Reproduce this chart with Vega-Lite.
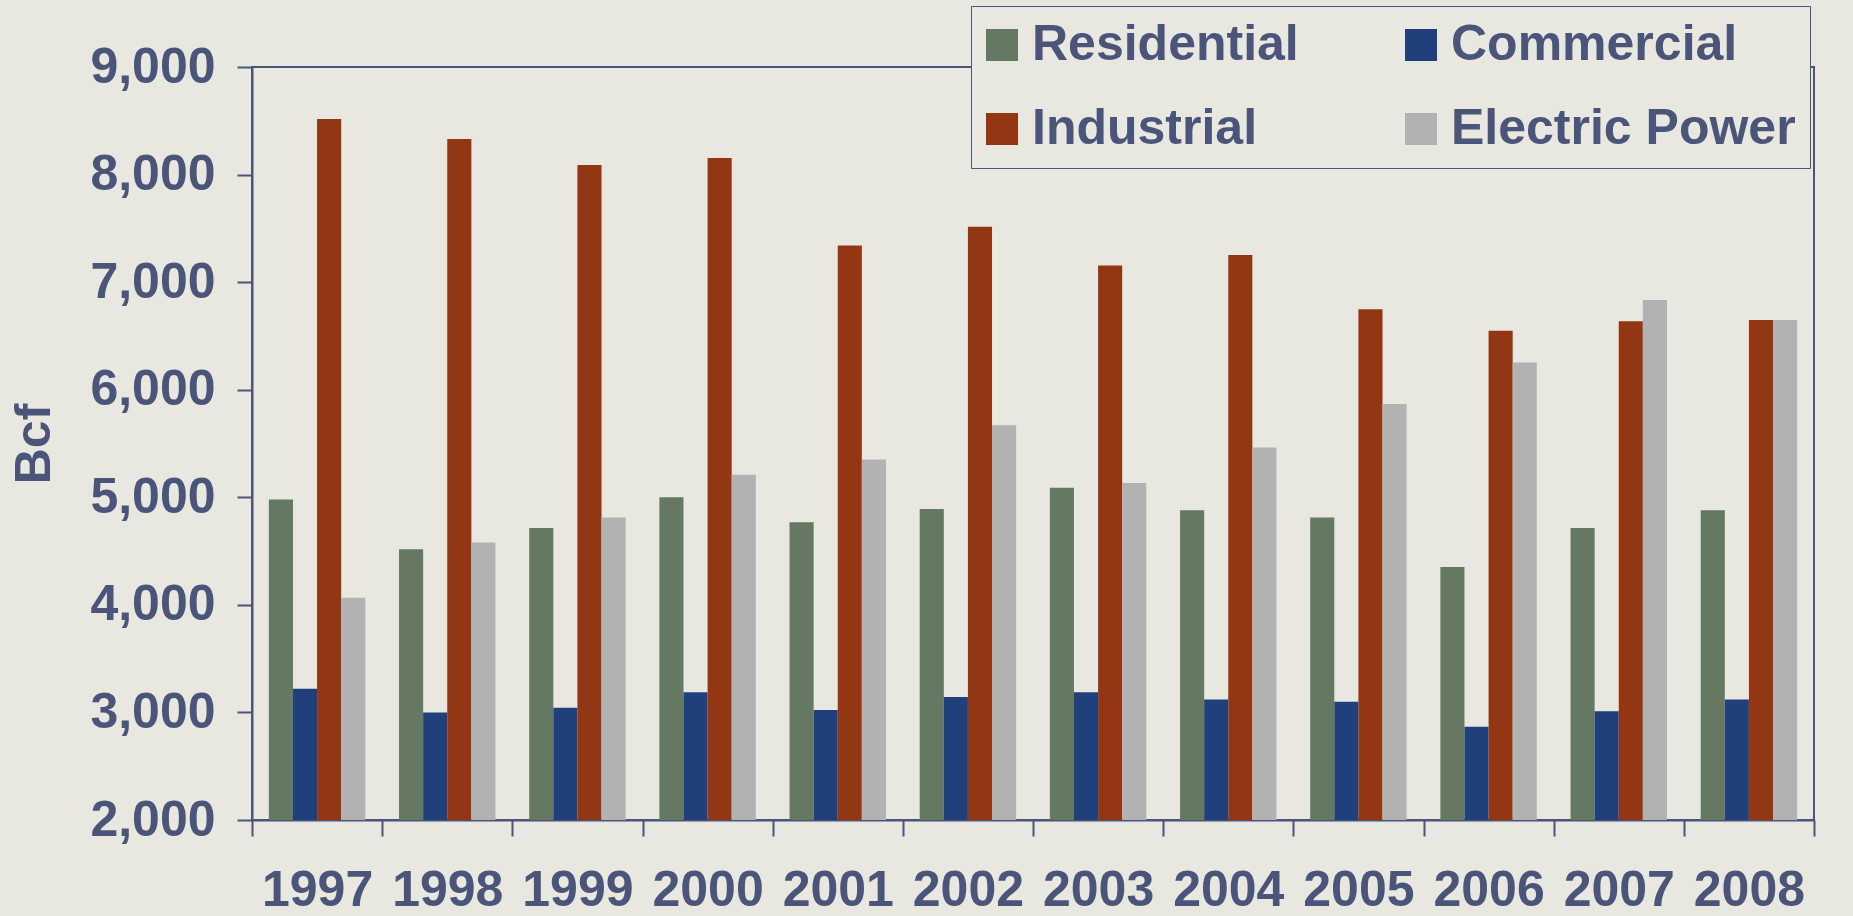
{
  "$schema": "https://vega.github.io/schema/vega-lite/v6.json",
  "width": 1562,
  "height": 753,
  "autosize": {"type": "none"},
  "padding": {"left": 252, "top": 67, "right": 39, "bottom": 96},
  "background": "#e8e8e1",
  "config": {
    "font": "Liberation Sans",
    "view": {"stroke": "#4b557a", "strokeWidth": 2}
  },
  "data": {
    "values": [
      {"year": "1997", "sector": "Residential", "bcf": 4980},
      {"year": "1997", "sector": "Commercial", "bcf": 3220},
      {"year": "1997", "sector": "Industrial", "bcf": 8516},
      {"year": "1997", "sector": "Electric Power", "bcf": 4066},
      {"year": "1998", "sector": "Residential", "bcf": 4516},
      {"year": "1998", "sector": "Commercial", "bcf": 3000},
      {"year": "1998", "sector": "Industrial", "bcf": 8330},
      {"year": "1998", "sector": "Electric Power", "bcf": 4580},
      {"year": "1999", "sector": "Residential", "bcf": 4715},
      {"year": "1999", "sector": "Commercial", "bcf": 3044},
      {"year": "1999", "sector": "Industrial", "bcf": 8088},
      {"year": "1999", "sector": "Electric Power", "bcf": 4813},
      {"year": "2000", "sector": "Residential", "bcf": 5000},
      {"year": "2000", "sector": "Commercial", "bcf": 3187},
      {"year": "2000", "sector": "Industrial", "bcf": 8154},
      {"year": "2000", "sector": "Electric Power", "bcf": 5209},
      {"year": "2001", "sector": "Residential", "bcf": 4769},
      {"year": "2001", "sector": "Commercial", "bcf": 3022},
      {"year": "2001", "sector": "Industrial", "bcf": 7341},
      {"year": "2001", "sector": "Electric Power", "bcf": 5352},
      {"year": "2002", "sector": "Residential", "bcf": 4890},
      {"year": "2002", "sector": "Commercial", "bcf": 3143},
      {"year": "2002", "sector": "Industrial", "bcf": 7516},
      {"year": "2002", "sector": "Electric Power", "bcf": 5670},
      {"year": "2003", "sector": "Residential", "bcf": 5088},
      {"year": "2003", "sector": "Commercial", "bcf": 3187},
      {"year": "2003", "sector": "Industrial", "bcf": 7154},
      {"year": "2003", "sector": "Electric Power", "bcf": 5132},
      {"year": "2004", "sector": "Residential", "bcf": 4879},
      {"year": "2004", "sector": "Commercial", "bcf": 3121},
      {"year": "2004", "sector": "Industrial", "bcf": 7253},
      {"year": "2004", "sector": "Electric Power", "bcf": 5462},
      {"year": "2005", "sector": "Residential", "bcf": 4813},
      {"year": "2005", "sector": "Commercial", "bcf": 3099},
      {"year": "2005", "sector": "Industrial", "bcf": 6747},
      {"year": "2005", "sector": "Electric Power", "bcf": 5868},
      {"year": "2006", "sector": "Residential", "bcf": 4352},
      {"year": "2006", "sector": "Commercial", "bcf": 2868},
      {"year": "2006", "sector": "Industrial", "bcf": 6549},
      {"year": "2006", "sector": "Electric Power", "bcf": 6253},
      {"year": "2007", "sector": "Residential", "bcf": 4714},
      {"year": "2007", "sector": "Commercial", "bcf": 3011},
      {"year": "2007", "sector": "Industrial", "bcf": 6637},
      {"year": "2007", "sector": "Electric Power", "bcf": 6835},
      {"year": "2008", "sector": "Residential", "bcf": 4879},
      {"year": "2008", "sector": "Commercial", "bcf": 3121},
      {"year": "2008", "sector": "Industrial", "bcf": 6648},
      {"year": "2008", "sector": "Electric Power", "bcf": 6648}
    ]
  },
  "mark": {"type": "bar", "clip": true},
  "encoding": {
    "x": {
      "field": "year",
      "type": "nominal",
      "scale": {"paddingInner": 0, "paddingOuter": 0},
      "axis": {
        "title": null,
        "labelAngle": 0,
        "tickBand": "extent",
        "tickSize": 16,
        "tickWidth": 2,
        "tickColor": "#4b557a",
        "domainColor": "#4b557a",
        "domainWidth": 2,
        "labelFontSize": 50,
        "labelFontWeight": "bold",
        "labelColor": "#4b557a",
        "labelPadding": 29
      }
    },
    "xOffset": {
      "field": "sector",
      "type": "nominal",
      "sort": ["Residential", "Commercial", "Industrial", "Electric Power"],
      "scale": {"paddingInner": 0, "paddingOuter": 0.7}
    },
    "y": {
      "field": "bcf",
      "type": "quantitative",
      "scale": {"domain": [2000, 9000], "zero": false, "nice": false},
      "axis": {
        "title": "Bcf",
        "values": [2000, 3000, 4000, 5000, 6000, 7000, 8000, 9000],
        "format": ",.0f",
        "grid": false,
        "tickSize": 15,
        "tickWidth": 2,
        "tickColor": "#4b557a",
        "domainColor": "#4b557a",
        "domainWidth": 2,
        "labelFontSize": 50,
        "labelFontWeight": "bold",
        "labelColor": "#4b557a",
        "labelPadding": 22,
        "titleFontSize": 50,
        "titleFontWeight": "bold",
        "titleColor": "#4b557a",
        "titlePadding": 30
      }
    },
    "color": {
      "field": "sector",
      "type": "nominal",
      "sort": ["Residential", "Commercial", "Industrial", "Electric Power"],
      "scale": {
        "domain": ["Residential", "Commercial", "Industrial", "Electric Power"],
        "range": ["#657862", "#20407c", "#933614", "#b2b2b2"]
      },
      "legend": {
        "title": null,
        "orient": "none",
        "legendX": 719,
        "legendY": -61,
        "direction": "horizontal",
        "columns": 2,
        "gridAlign": "all",
        "columnPadding": 27,
        "rowPadding": 34,
        "padding": 14,
        "fillColor": "#e8e8e1",
        "strokeColor": "#4b557a",
        "symbolType": "square",
        "symbolSize": 1024,
        "symbolStrokeWidth": 0,
        "symbolOffset": -8,
        "labelFontSize": 50,
        "labelFontWeight": "bold",
        "labelColor": "#4b557a",
        "labelOffset": 5,
        "labelLimit": 600
      }
    }
  }
}
